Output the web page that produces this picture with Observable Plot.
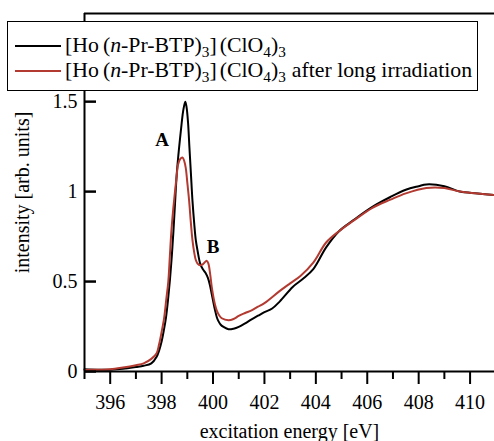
<!DOCTYPE html>
<html>
<head>
<meta charset="utf-8">
<script src="https://cdn.jsdelivr.net/npm/d3@7"></script>
<script src="https://cdn.jsdelivr.net/npm/@observablehq/plot@0.6"></script>
<style>
  html, body { margin: 0; padding: 0; background: #fff; }
  #wrap { position: relative; width: 494px; height: 441px; overflow: hidden; font-family: "Liberation Serif", serif; }
  #chart svg text { font-family: "Liberation Serif", serif !important; font-size: 20px; }
  #chart svg g.peak text { font-size: 19px; }
  #legend { position: absolute; left: 7px; top: 21px; width: 469px; height: 68px; border: 1.5px solid #000; background: #fff; font-size: 21.8px; color: #000; }
  .row { position: absolute; left: 0; height: 25px; display: flex; align-items: center; white-space: nowrap; }
  .swatch { display: inline-block; width: 46px; height: 0; border-top: 2px solid; margin-left: 7px; margin-right: 4px; }
  sub { font-size: 70%; vertical-align: -0.3em; line-height: 0; }
</style>
</head>
<body>
<div id="wrap">
  <div id="chart"></div>
  <div id="legend"></div>
</div>
<script>
// Series 1: [Ho(n-Pr-BTP)3](ClO4)3 (black)
const blackE = [395.0,395.5,396.0,396.5,397.0,397.3,397.6,397.8,397.97,398.1,398.17,398.25,398.33,398.4,398.46,398.52,398.59,398.65,398.72,398.78,398.84,398.92,398.97,399.03,399.08,399.14,399.2,399.27,399.33,399.4,399.5,399.6,399.7,399.8,399.88,399.95,400.02,400.08,400.15,400.21,400.3,400.41,400.6,400.8,401.0,401.25,401.5,401.75,402.0,402.3,402.6,403.1,403.5,403.9,404.4,404.9,405.45,406.2,406.9,407.5,408.0,408.3,409.0,409.6,410.3,411.0];
const blackI = [0.012,0.010,0.010,0.015,0.025,0.032,0.045,0.08,0.15,0.24,0.30,0.40,0.52,0.65,0.78,0.93,1.10,1.20,1.30,1.38,1.45,1.50,1.47,1.38,1.25,1.10,0.95,0.82,0.73,0.67,0.60,0.57,0.55,0.52,0.48,0.43,0.38,0.34,0.30,0.28,0.26,0.248,0.235,0.238,0.248,0.268,0.29,0.31,0.33,0.35,0.39,0.47,0.515,0.569,0.69,0.78,0.84,0.915,0.97,1.01,1.03,1.04,1.03,1.00,0.99,0.98];
// Series 2: after long irradiation (red)
const redE = [395.0,395.5,396.0,396.5,397.0,397.3,397.6,397.8,397.9,398.0,398.1,398.18,398.26,398.32,398.38,398.45,398.52,398.58,398.64,398.72,398.81,398.88,398.94,399.0,399.07,399.13,399.2,399.27,399.33,399.4,399.5,399.6,399.7,399.76,399.82,399.89,399.95,400.02,400.08,400.15,400.25,400.34,400.6,400.8,401.0,401.25,401.5,401.75,402.0,402.6,403.0,403.4,403.9,404.4,404.9,405.45,406.2,406.9,407.5,408.3,409.0,409.6,410.3,411.0];
const redI = [0.008,0.010,0.012,0.022,0.035,0.045,0.07,0.10,0.15,0.22,0.30,0.40,0.50,0.64,0.78,0.90,1.00,1.08,1.15,1.18,1.19,1.17,1.13,1.05,0.95,0.84,0.73,0.66,0.62,0.60,0.59,0.595,0.61,0.615,0.60,0.54,0.47,0.41,0.37,0.337,0.31,0.296,0.285,0.292,0.309,0.325,0.34,0.36,0.38,0.448,0.49,0.531,0.605,0.717,0.78,0.837,0.91,0.955,0.99,1.02,1.02,1.00,0.99,0.98];

const xMajorTicks = [396,398,400,402,404,406,408,410];
const xMinorTicks = [395,397,399,401,403,405,407,409,411];
const yTicks = [0,0.5,1,1.5];
const peakLabels = ["A","B"];
const peakE = [398.02,400.0];
const peakI = [1.29,0.69];

const xDomain = [395, 410.95];
const yDomain = [0, 1.99];

const black = blackE.map((e,i)=>({e, v: blackI[i]}));
const red = redE.map((e,i)=>({e, v: redI[i]}));
const peaks = peakLabels.map((t,i)=>({t, e: peakE[i], v: peakI[i]}));

const RED = "#b23a30";
const W = 494, H = 441, ML = 84, MR = 0, MT = 13, MB = 70, Y_TICK_LEN = 12;

const plot = Plot.plot({
  width: W,
  height: H,
  marginLeft: ML,
  marginRight: MR,
  marginTop: MT,
  marginBottom: MB,
  x: {domain: xDomain},
  y: {domain: yDomain},
  marks: [
    Plot.axisX(xMinorTicks, {tickSize: 8, tickFormat: () => "", strokeWidth: 2, label: null}),
    Plot.axisX(xMajorTicks, {tickSize: 13, tickPadding: 10, strokeWidth: 2, label: "excitation energy [eV]", labelAnchor: "center", labelOffset: 66, labelArrow: "none"}),
    Plot.axisY(yTicks, {tickSize: 0, tickPadding: 7, tickFormat: d => String(d), label: "intensity [arb. units]", labelAnchor: "center", labelOffset: 70, labelArrow: "none"}),
    Plot.axisY(yTicks, {anchor: "left", tickSize: Y_TICK_LEN, dx: Y_TICK_LEN, tickFormat: () => "", label: null, strokeWidth: 2}),
    Plot.line(black, {x: "e", y: "v", stroke: "#000", strokeWidth: 2, curve: "catmull-rom"}),
    Plot.line(red, {x: "e", y: "v", stroke: RED, strokeWidth: 2, curve: "catmull-rom"}),
    Plot.ruleX([xDomain[0]], {stroke: "#000", strokeWidth: 2}),
    Plot.ruleY([yDomain[0]], {stroke: "#000", strokeWidth: 2}),
    Plot.ruleY([yDomain[1]], {stroke: "#000", strokeWidth: 2}),
    Plot.text(peaks, {x: "e", y: "v", text: "t", fontWeight: "bold", fill: "#000", className: "peak"}),
    Plot.tickY(yTicks, {y: d => d, insetRight: W - ML - MR - Y_TICK_LEN, stroke: "#000", strokeWidth: 2})
  ]
});
document.getElementById("chart").appendChild(plot);

const legendItems = [
  {color: "#000", html: '[Ho<span style="margin-left:4px"></span>(<i>n</i>-Pr-BTP)<sub>3</sub>]<span style="margin-left:3px"></span>(ClO<sub>4</sub>)<sub>3</sub>'},
  {color: RED, html: '[Ho<span style="margin-left:4px"></span>(<i>n</i>-Pr-BTP)<sub>3</sub>]<span style="margin-left:3px"></span>(ClO<sub>4</sub>)<sub>3</sub><span style="margin-left:6px"></span>after long irradiation'}
];
const lg = document.getElementById("legend");
legendItems.forEach((it, i) => {
  const row = document.createElement("div");
  row.className = "row";
  row.style.top = (i === 0 ? 11 : 36) + "px";
  row.innerHTML = `<span class="swatch" style="border-color:${it.color}"></span><span>${it.html}</span>`;
  lg.appendChild(row);
});
</script>
</body>
</html>
